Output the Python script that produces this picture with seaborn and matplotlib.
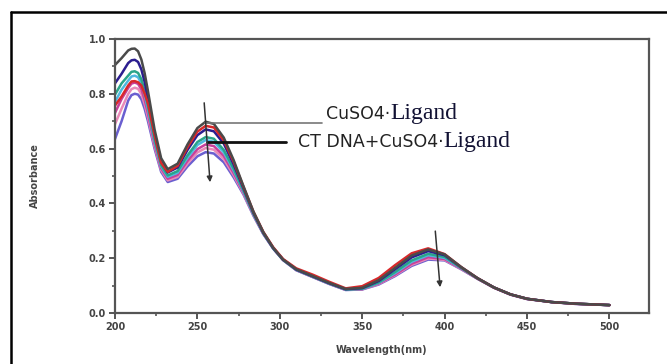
import numpy as np
import pandas as pd
import matplotlib
matplotlib.use("Agg")
import matplotlib.pyplot as plt
import seaborn as sns
from matplotlib.lines import Line2D
from matplotlib.ticker import MultipleLocator, FormatStrFormatter

# wavelength grid (nm)
wavelength = [200, 204, 208, 210, 212, 214, 216, 218, 220, 224, 228, 232, 238, 244, 250, 255, 260,
              266, 272, 278, 284, 290, 296, 302, 310, 320, 330, 340, 350, 360, 370,
              380, 390, 400, 410, 420, 430, 440, 450, 465, 480, 500]

# absorbance of each titration step (top curve first)
abs_1 = [0.905, 0.930, 0.958, 0.964, 0.965, 0.955, 0.925, 0.875, 0.810, 0.670, 0.565, 0.525, 0.545,
         0.615, 0.675, 0.698, 0.690, 0.640, 0.558, 0.462, 0.370, 0.295, 0.238, 0.195, 0.160, 0.135,
         0.110, 0.088, 0.092, 0.120, 0.165, 0.210, 0.232, 0.214, 0.168, 0.127, 0.093, 0.068, 0.052,
         0.040, 0.034, 0.029]
abs_2 = [0.757, 0.790, 0.830, 0.845, 0.846, 0.842, 0.830, 0.800, 0.765, 0.650, 0.548, 0.515, 0.537,
         0.605, 0.662, 0.683, 0.677, 0.630, 0.552, 0.460, 0.370, 0.296, 0.240, 0.197, 0.163, 0.140,
         0.114, 0.090, 0.098, 0.128, 0.175, 0.218, 0.236, 0.215, 0.168, 0.127, 0.093, 0.068, 0.052,
         0.040, 0.034, 0.029]
abs_3 = [0.838, 0.873, 0.912, 0.922, 0.924, 0.916, 0.889, 0.843, 0.783, 0.653, 0.553, 0.513, 0.531,
         0.595, 0.649, 0.670, 0.663, 0.618, 0.542, 0.455, 0.366, 0.293, 0.237, 0.195, 0.159, 0.134,
         0.109, 0.087, 0.091, 0.117, 0.160, 0.203, 0.226, 0.211, 0.167, 0.127, 0.093, 0.068, 0.052,
         0.040, 0.034, 0.029]
abs_4 = [0.797, 0.838, 0.866, 0.880, 0.882, 0.876, 0.853, 0.810, 0.755, 0.635, 0.540, 0.502, 0.518,
         0.575, 0.624, 0.642, 0.636, 0.595, 0.527, 0.447, 0.362, 0.291, 0.236, 0.194, 0.158, 0.133,
         0.108, 0.086, 0.089, 0.112, 0.150, 0.192, 0.216, 0.205, 0.165, 0.126, 0.093, 0.068, 0.052,
         0.040, 0.034, 0.029]
abs_5 = [0.770, 0.815, 0.848, 0.863, 0.866, 0.860, 0.838, 0.797, 0.744, 0.628, 0.535, 0.497, 0.512,
         0.567, 0.613, 0.631, 0.625, 0.586, 0.520, 0.444, 0.361, 0.291, 0.236, 0.194, 0.158, 0.133,
         0.108, 0.086, 0.088, 0.110, 0.146, 0.187, 0.211, 0.201, 0.164, 0.126, 0.093, 0.068, 0.052,
         0.040, 0.034, 0.029]
abs_6 = [0.730, 0.781, 0.821, 0.837, 0.841, 0.836, 0.816, 0.778, 0.728, 0.618, 0.528, 0.490, 0.504,
         0.555, 0.598, 0.615, 0.609, 0.573, 0.511, 0.440, 0.359, 0.290, 0.236, 0.194, 0.157, 0.132,
         0.107, 0.085, 0.087, 0.108, 0.141, 0.180, 0.204, 0.197, 0.162, 0.125, 0.093, 0.068, 0.052,
         0.040, 0.034, 0.029]
abs_7 = [0.689, 0.746, 0.799, 0.817, 0.822, 0.818, 0.799, 0.762, 0.714, 0.609, 0.522, 0.484, 0.497,
         0.545, 0.586, 0.602, 0.596, 0.562, 0.503, 0.436, 0.357, 0.289, 0.235, 0.193, 0.157, 0.132,
         0.107, 0.085, 0.087, 0.106, 0.138, 0.176, 0.199, 0.194, 0.161, 0.125, 0.092, 0.067, 0.051,
         0.040, 0.033, 0.029]
abs_8 = [0.635, 0.700, 0.775, 0.795, 0.800, 0.797, 0.780, 0.745, 0.700, 0.600, 0.515, 0.478, 0.490,
         0.535, 0.572, 0.587, 0.582, 0.550, 0.495, 0.432, 0.355, 0.288, 0.235, 0.193, 0.156, 0.131,
         0.106, 0.084, 0.086, 0.104, 0.135, 0.172, 0.195, 0.192, 0.160, 0.125, 0.092, 0.067, 0.051,
         0.040, 0.033, 0.029]

series = [abs_8, abs_7, abs_6, abs_5, abs_4, abs_3, abs_2, abs_1]
colors = ["#6a5fd0", "#e98ab8", "#c8409a", "#4fb8e0", "#2aa58a", "#2b1d8f", "#d8282a", "#4a4a4a"]

df = pd.DataFrame({
    "wavelength": wavelength * len(series),
    "absorbance": [v for s in series for v in s],
    "step": [i for i, s in enumerate(series) for _ in s],
})

sns.set_style("ticks")
plt.rcParams["font.family"] = ["DejaVu Sans"]

fig = plt.figure(figsize=(6.67, 3.64), dpi=100)
ax = fig.add_axes([0.1724, 0.140, 0.8006, 0.753])

sns.lineplot(data=df, x="wavelength", y="absorbance", hue="step", palette=colors,
             legend=False, linewidth=1.8, ax=ax)

ax.set_xlim(200, 524)
ax.set_ylim(0, 1.0)
ax.xaxis.set_major_locator(MultipleLocator(50))
ax.xaxis.set_minor_locator(MultipleLocator(25))
ax.yaxis.set_major_locator(MultipleLocator(0.2))
ax.yaxis.set_minor_locator(MultipleLocator(0.1))
ax.yaxis.set_major_formatter(FormatStrFormatter("%.1f"))

axcol = "#555555"
for sp in ax.spines.values():
    sp.set_color(axcol)
    sp.set_linewidth(1.6)
ax.tick_params(which="major", direction="out", length=4, width=1.4, color=axcol,
               labelsize=7, labelcolor="#444444", pad=2.5)
ax.tick_params(which="minor", direction="out", length=2.5, width=1.2, color=axcol)
for lab in ax.get_xticklabels() + ax.get_yticklabels():
    lab.set_fontweight("bold")

ax.set_xlabel("Wavelength(nm)", fontsize=7, fontweight="bold", color="#444444")
ax.set_ylabel("Absorbance", fontsize=7, fontweight="bold", color="#444444")
ax.xaxis.set_label_coords(0.5, -0.117)
ax.yaxis.set_label_coords(-0.140, 0.5)

# arrows showing the hypochromic shift
arrow = dict(arrowstyle="-|>", color="#333333", lw=1.1, mutation_scale=8)
ax.annotate("", xy=(257.8, 0.467), xytext=(254, 0.777), arrowprops=arrow)
ax.annotate("", xy=(397.4, 0.084), xytext=(394.2, 0.309), arrowprops=arrow)

# labels for first and last spectrum
ax.plot([254.5, 325.5], [0.695, 0.695], color="#777777", lw=1.2)
ax.plot([255.8, 303.5], [0.625, 0.625], color="#111111", lw=2.0)
t1 = ax.text(328, 0.707, "CuSO4·", fontsize=12.5, color="#222222", va="baseline")
t2 = ax.text(311, 0.605, "CT DNA+CuSO4·", fontsize=12.5, color="#222222", va="baseline")

# put the serif "Ligand" right after each sans part
fig.canvas.draw()
inv = ax.transData.inverted()
for t, y in [(t1, 0.707), (t2, 0.605)]:
    x_end = inv.transform((t.get_window_extent().x1, 0))[0]
    ax.text(x_end, y, "Ligand", family="Liberation Serif", fontsize=17,
            color="#111133", va="baseline")

# outer frame of the picture (open at right and bottom)
fig.add_artist(Line2D([0.017, 1.0], [0.968, 0.968], color="black", lw=1.8))
fig.add_artist(Line2D([0.017, 0.017], [0.0, 0.968], color="black", lw=1.8))

fig.savefig("out.png", dpi=100)
